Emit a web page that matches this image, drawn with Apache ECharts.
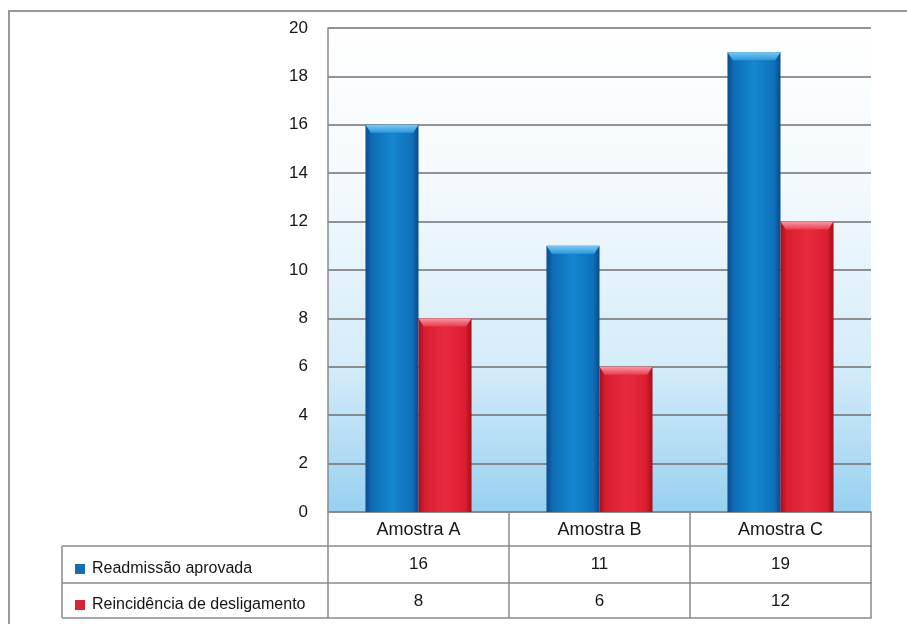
<!DOCTYPE html>
<html>
<head>
<meta charset="utf-8">
<script src="https://cdn.jsdelivr.net/npm/echarts@6/dist/echarts.min.js"></script>
<style>
	html, body { margin: 0; padding: 0; background: #fff; }
	#container { width: 907px; height: 624px; }
</style>
</head>
<body>
<div id="container"></div>
<script>
const Categorias = ['Amostra A', 'Amostra B', 'Amostra C'];
const Readmissao = [16, 11, 19];
const Reincidencia = [8, 6, 12];
const Series = ['Readmissão aprovada', 'Reincidência de desligamento'];

// grade do gráfico (px)
const G = {left: 328, top: 28, width: 543, height: 484};
const Row = [34, 71, 106]; // linhas da tabela abaixo do eixo
const Fonte = '"Liberation Sans", Arial, sans-serif';

const azul = new echarts.graphic.LinearGradient(0, 0, 1, 0, [
	{offset: 0, color: '#0a4c8c'}, {offset: 0.12, color: '#0f6cb6'},
	{offset: 0.5, color: '#1586d0'}, {offset: 0.88, color: '#0f70ba'},
	{offset: 1, color: '#0a4a88'}
]);
const vermelho = new echarts.graphic.LinearGradient(0, 0, 1, 0, [
	{offset: 0, color: '#a80f1c'}, {offset: 0.12, color: '#d81f31'},
	{offset: 0.5, color: '#e82a3d'}, {offset: 0.88, color: '#da1e30'},
	{offset: 1, color: '#a50e1b'}
]);
const tampaAzul = new echarts.graphic.LinearGradient(0, 0, 0, 1, [
	{offset: 0, color: '#7cc8f2'}, {offset: 1, color: '#2a98dc'}
]);
const tampaVermelha = new echarts.graphic.LinearGradient(0, 0, 0, 1, [
	{offset: 0, color: '#f59aa4'}, {offset: 1, color: '#ec3a4c'}
]);
const trapezio = 'path://M0,0 L10,0 L9,1 L1,1 Z';

function eixoTabela(offset, valores, linha) {
	return {
		type: 'category', data: Categorias, position: 'bottom', offset: offset,
		axisLine: {show: linha, lineStyle: {color: '#8a8a8a', width: 1.5}},
		axisTick: {show: false},
		axisLabel: {
			show: !!valores, margin: 10, fontSize: 17, color: '#151515', fontFamily: Fonte,
			formatter: function (v, i) {
				return valores ? String(valores[i]) : '';
			}
		},
		splitLine: {show: false}
	};
}

const option = {
	animation: false,
	backgroundColor: '#ffffff',
	grid: {
		left: G.left, top: G.top, width: G.width, height: G.height, show: true, borderWidth: 0,
		backgroundColor: new echarts.graphic.LinearGradient(0, 0, 0, 1, [
			{offset: 0, color: '#ffffff'}, {offset: 0.35, color: '#f2f9fd'},
			{offset: 0.7, color: '#d4ecf9'}, {offset: 1, color: '#98d0f0'}
		])
	},
	legend: {
		left: 70, top: 556, orient: 'vertical', itemWidth: 10, itemHeight: 10, itemGap: 20,
		icon: 'rect', selectedMode: false,
		textStyle: {fontSize: 16, color: '#151515', fontFamily: Fonte, lineHeight: 16, padding: [0, 0, 0, 2]},
		data: [
			{name: Series[0], itemStyle: {color: '#176db5'}},
			{name: Series[1], itemStyle: {color: '#d8243a'}}
		]
	},
	xAxis: [{
		type: 'category', data: Categorias, position: 'bottom',
		axisLine: {show: true, lineStyle: {color: '#8a8a8a', width: 1.5}},
		axisTick: {show: true, alignWithLabel: false, interval: 0, length: 106, lineStyle: {color: '#8a8a8a', width: 1.5}},
		axisLabel: {margin: 9, fontSize: 18, color: '#151515', fontFamily: Fonte},
		splitLine: {show: false}
	},
		eixoTabela(Row[0], Readmissao, true),
		eixoTabela(Row[1], Reincidencia, true),
		eixoTabela(Row[2], null, true)
	],
	yAxis: {
		type: 'value', min: 0, max: 20, interval: 2,
		axisLine: {show: true, lineStyle: {color: '#8a8a8a', width: 1.5}},
		axisTick: {show: false},
		axisLabel: {margin: 20, fontSize: 17, color: '#151515', fontFamily: Fonte},
		splitLine: {show: true, lineStyle: {color: '#6f6f6f', width: 1.5}}
	},
	series: [{
		name: Series[0], type: 'bar', data: Readmissao, barWidth: '29.3%', barGap: '0%',
		itemStyle: {color: azul}, z: 2
	}, {
		name: Series[1], type: 'bar', data: Reincidencia, barWidth: '29.3%', barGap: '0%',
		itemStyle: {color: vermelho}, z: 2
	}, {
		name: 'tampa1', type: 'pictorialBar', data: Readmissao, symbol: trapezio,
		symbolSize: [53, 8], symbolPosition: 'end', symbolOffset: ['-50%', 0],
		itemStyle: {color: tampaAzul}, z: 3, silent: true
	}, {
		name: 'tampa2', type: 'pictorialBar', data: Reincidencia, symbol: trapezio,
		symbolSize: [53, 8], symbolPosition: 'end', symbolOffset: ['50%', 0],
		itemStyle: {color: tampaVermelha}, z: 3, silent: true
	}],
	graphic: [{
		type: 'rect', silent: true,
		shape: {x: 9, y: 11, width: 940, height: 660},
		style: {fill: 'none', stroke: '#9a9a9a', lineWidth: 2}
	}, {
		type: 'line', silent: true,
		shape: {x1: 62, y1: G.top + G.height + Row[0], x2: G.left, y2: G.top + G.height + Row[0]},
		style: {stroke: '#8a8a8a', lineWidth: 1.5}
	}, {
		type: 'line', silent: true,
		shape: {x1: 62, y1: G.top + G.height + Row[1], x2: G.left, y2: G.top + G.height + Row[1]},
		style: {stroke: '#8a8a8a', lineWidth: 1.5}
	}, {
		type: 'line', silent: true,
		shape: {x1: 62, y1: G.top + G.height + Row[2], x2: G.left, y2: G.top + G.height + Row[2]},
		style: {stroke: '#8a8a8a', lineWidth: 1.5}
	}, {
		type: 'line', silent: true,
		shape: {x1: 62, y1: G.top + G.height + Row[0], x2: 62, y2: G.top + G.height + Row[2]},
		style: {stroke: '#8a8a8a', lineWidth: 1.5}
	}]
};

echarts.init(document.getElementById('container')).setOption(option);
</script>
</body>
</html>
